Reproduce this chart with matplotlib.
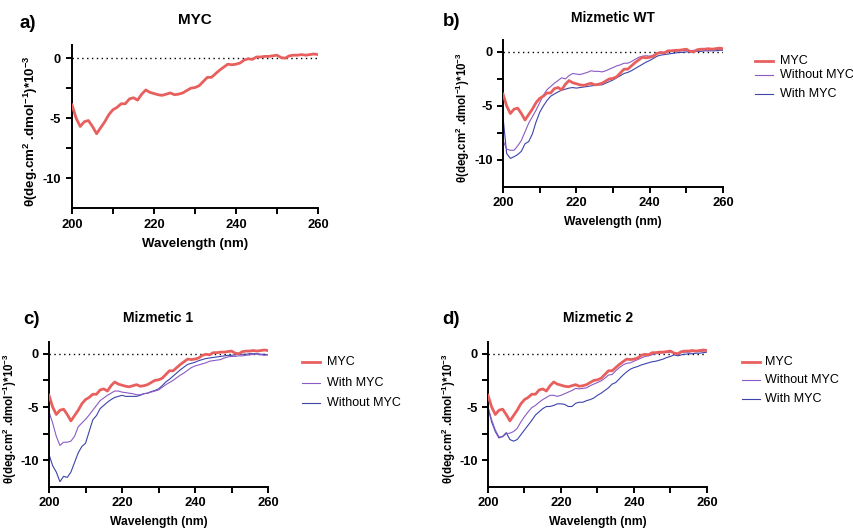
import numpy as np
import matplotlib
matplotlib.use("Agg")
import matplotlib.pyplot as plt
from matplotlib.lines import Line2D

plt.rcParams['font.family'] = ['Liberation Sans', 'DejaVu Sans']
plt.rcParams['mathtext.fontset'] = 'custom'
plt.rcParams['mathtext.rm'] = 'Liberation Sans:bold'
plt.rcParams['mathtext.bf'] = 'Liberation Sans:bold'
plt.rcParams['mathtext.it'] = 'Liberation Sans:bold'

# wavelength grid (nm)
wl = np.arange(200, 261)

# MYC alone (same trace in every panel)
myc = [-3.9, -5.0, -5.7, -5.3, -5.2, -5.7, -6.3, -5.8, -5.3, -4.7,
       -4.3, -4.1, -3.8, -3.8, -3.4, -3.3, -3.5, -3.0, -2.65, -2.85,
       -2.95, -3.05, -3.1, -3.0, -2.9, -3.05, -3.0, -2.9, -2.7, -2.5,
       -2.45, -2.3, -1.95, -1.6, -1.6, -1.3, -1.0, -0.75, -0.5, -0.55,
       -0.5, -0.4, -0.15, -0.05, -0.1, 0.1, 0.1, 0.15, 0.15, 0.2,
       0.25, 0.05, 0.0, 0.2, 0.25, 0.25, 0.3, 0.25, 0.3, 0.35, 0.3]

# Mizmetic WT
wt_without = [-8.2, -9.0, -9.1, -9.1, -8.7, -8.2, -7.4, -6.6, -6.0, -5.4,
              -4.7, -4.0, -3.5, -3.2, -2.9, -2.65, -2.4, -2.5, -2.2, -2.0,
              -2.05, -2.1, -2.0, -1.9, -1.75, -1.8, -1.8, -1.85, -1.75, -1.6,
              -1.45, -1.3, -1.2, -1.05, -1.05, -0.9, -0.7, -0.5, -0.4, -0.35,
              -0.4, -0.3, -0.1, -0.1, -0.05, 0.0, 0.05, 0.05, 0.1, 0.1,
              0.15, 0.1, 0.15, 0.15, 0.2, 0.15, 0.2, 0.2, 0.25, 0.2, 0.2]
wt_with = [-6.0, -9.4, -9.85, -9.7, -9.5, -9.2, -8.5, -8.3, -7.6, -6.5,
           -5.6, -5.0, -4.5, -4.1, -3.9, -3.7, -3.55, -3.45, -3.35, -3.3,
           -3.35, -3.3, -3.25, -3.2, -3.15, -3.1, -3.05, -3.05, -2.9, -2.75,
           -2.6, -2.4, -2.2, -2.0, -1.9, -1.75, -1.55, -1.35, -1.15, -0.95,
           -0.8, -0.6, -0.4, -0.3, -0.25, -0.2, -0.15, -0.1, -0.05, -0.05,
           0.0, 0.0, 0.05, 0.05, 0.05, 0.1, 0.1, 0.1, 0.1, 0.15, 0.15]

# Mizmetic 1
m1_with = [-5.45, -6.5, -7.75, -8.6, -8.3, -8.3, -8.2, -7.75, -6.85, -6.5,
           -6.15, -5.75, -5.3, -4.85, -4.4, -4.15, -3.9, -3.7, -3.5, -3.5,
           -3.6, -3.65, -3.7, -3.75, -3.85, -3.85, -3.75, -3.7, -3.6, -3.5,
           -3.4, -3.15, -2.9, -2.7, -2.5, -2.25, -2.0, -1.8, -1.55, -1.3,
           -1.15, -1.05, -0.95, -0.85, -0.7, -0.65, -0.6, -0.55, -0.4, -0.3,
           -0.25, -0.25, -0.2, -0.2, -0.15, -0.1, -0.05, -0.05, -0.1, -0.15, -0.1]
m1_without = [-9.45, -10.5, -11.1, -12.0, -11.5, -11.6, -11.1, -10.2, -9.3, -8.7,
              -8.4, -7.3, -6.2, -5.8, -5.15, -4.85, -4.55, -4.3, -4.1, -4.0,
              -3.9, -4.0, -4.0, -4.0, -4.0, -3.9, -3.75, -3.7, -3.55, -3.45,
              -3.3, -3.0, -2.65, -2.4, -2.1, -1.8, -1.5, -1.25, -1.0, -0.9,
              -0.8, -0.65, -0.55, -0.45, -0.4, -0.35, -0.3, -0.25, -0.2, -0.15,
              -0.15, -0.1, -0.05, -0.05, -0.05, 0.0, 0.0, 0.0, -0.05, -0.05, -0.1]

# Mizmetic 2
m2_without = [-5.0, -6.2, -7.15, -7.8, -7.8, -7.5, -7.45, -7.3, -7.0, -6.4,
              -5.9, -5.45, -5.05, -4.85, -4.55, -4.3, -4.1, -3.9, -3.9, -4.0,
              -3.9, -3.75, -3.6, -3.45, -3.25, -3.3, -3.25, -3.2, -3.0, -2.85,
              -2.7, -2.55, -2.3, -2.0, -1.95, -1.6, -1.3, -1.05, -0.9, -0.85,
              -0.7, -0.55, -0.4, -0.25, -0.2, -0.1, 0.0, 0.05, 0.1, 0.1,
              0.15, 0.1, 0.0, 0.1, 0.15, 0.15, 0.2, 0.2, 0.2, 0.25, 0.3]
m2_with = [-5.05, -6.4, -7.3, -7.9, -7.75, -7.4, -8.05, -8.2, -8.05, -7.6,
           -7.15, -6.7, -6.25, -5.75, -5.45, -5.15, -4.95, -4.95, -4.85, -4.7,
           -4.7, -4.75, -4.95, -4.95, -4.65, -4.55, -4.55, -4.4, -4.3, -4.15,
           -3.9, -3.7, -3.45, -3.2, -2.85, -2.7, -2.35, -2.0, -1.7, -1.45,
           -1.3, -1.2, -1.05, -0.95, -0.85, -0.75, -0.7, -0.6, -0.5, -0.35,
           -0.25, -0.1, -0.2, -0.1, -0.05, 0.0, 0.0, 0.05, 0.05, 0.1, 0.15]

RED = "#E8605E"
PURPLE = "#8A5BC4"
BLUE = "#3C44AA"

W, H = 854, 530
fig = plt.figure(figsize=(W / 100, H / 100), dpi=100)


def px_axes(x0, x1, ytop, ybot):
    return fig.add_axes([x0 / W, 1 - ybot / H, (x1 - x0) / W, (ybot - ytop) / H])


def style(ax, title, tag, tag_xy, title_xy, ylab_x, fs=1.0, yfs=8.3):
    ax.axhline(0, color="black", lw=1.0, ls=(0, (1, 2.5)), zorder=1)
    ax.set_xlim(200, 260)
    ax.set_ylim(-12.5, 1.1)
    ax.set_xticks([200, 220, 240, 260])
    ax.set_xticks([210, 230, 250], minor=True)
    ax.set_yticks([0, -5, -10])
    ax.set_yticklabels(["0", "-5", "-10"])
    ax.set_yticks([-2.5, -7.5], minor=True)
    for s in ["top", "right"]:
        ax.spines[s].set_visible(False)
    for s in ["left", "bottom"]:
        ax.spines[s].set_linewidth(1.4)
    ax.tick_params(which="both", direction="out", width=1.4, length=4 * fs,
                   labelsize=9.3)
    for lab in ax.get_xticklabels() + ax.get_yticklabels():
        lab.set_fontweight("bold")
    ax.set_xlabel("Wavelength (nm)", fontsize=8.7 * fs, fontweight="bold", labelpad=5)
    ax.set_ylabel(r"θ(deg.cm$^{2}$ .dmol$^{-1}$)*10$^{-3}$", fontsize=yfs,
                  fontweight="bold")
    ax.yaxis.set_label_coords(ylab_x, 0.47)
    fig.text(tag_xy[0] / W, 1 - tag_xy[1] / H, tag, fontsize=13.5, fontweight="bold",
             ha="center", va="center")
    fig.text(title_xy[0] / W, 1 - title_xy[1] / H, title, fontsize=10 * fs,
             fontweight="bold", ha="center", va="center")


def legend(entries, x_line, x_text, ys):
    for (label, color, lw), y in zip(entries, ys):
        fig.add_artist(Line2D([x_line / W, (x_line + 18) / W], [1 - y / H, 1 - y / H],
                              color=color, lw=lw))
        fig.text(x_text / W, 1 - y / H, label, fontsize=9, ha="left", va="center")


# a) MYC
ax = px_axes(72, 318, 45, 208)
ax.plot(wl, myc, color=RED, lw=2.0, zorder=3)
style(ax, "MYC", "a)", (28, 23), (195, 20), -0.13, fs=1.1, yfs=9.6)

# b) Mizmetic WT
ax = px_axes(503, 723, 40, 187)
ax.plot(wl, wt_with, color=BLUE, lw=0.8)
ax.plot(wl, wt_without, color=PURPLE, lw=0.8)
ax.plot(wl, myc, color=RED, lw=2.0, zorder=3)
style(ax, "Mizmetic WT", "b)", (452, 22), (613, 18), -0.14)
legend([("MYC", RED, 2.0), ("Without MYC", PURPLE, 0.8), ("With MYC", BLUE, 0.8)],
       755, 780, [61, 75, 94])

# c) Mizmetic 1
ax = px_axes(49, 268, 342, 487)
ax.plot(wl, m1_without, color=BLUE, lw=0.8)
ax.plot(wl, m1_with, color=PURPLE, lw=0.8)
ax.plot(wl, myc, color=RED, lw=2.0, zorder=3)
style(ax, "Mizmetic 1", "c)", (32, 320), (158, 318), -0.135)
legend([("MYC", RED, 2.0), ("With MYC", PURPLE, 0.8), ("Without MYC", BLUE, 0.8)],
       302, 327, [362, 383, 403])

# d) Mizmetic 2
ax = px_axes(488, 707, 342, 487)
ax.plot(wl, m2_with, color=BLUE, lw=0.8)
ax.plot(wl, m2_without, color=PURPLE, lw=0.8)
ax.plot(wl, myc, color=RED, lw=2.0, zorder=3)
style(ax, "Mizmetic 2", "d)", (451, 320), (598, 318), -0.135)
legend([("MYC", RED, 2.0), ("Without MYC", PURPLE, 0.8), ("With MYC", BLUE, 0.8)],
       742, 765, [362, 380, 399])

fig.savefig("out.png", dpi=100)
